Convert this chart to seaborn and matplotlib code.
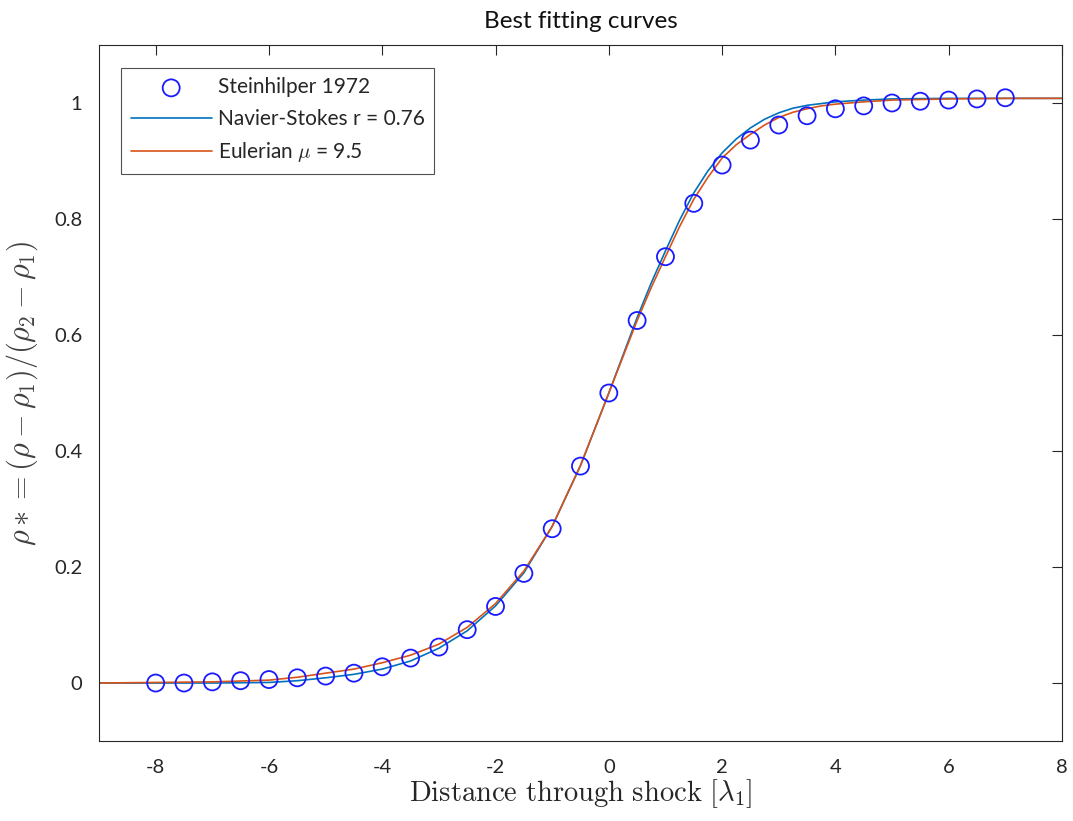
import numpy as np
import pandas as pd
import matplotlib
matplotlib.use("Agg")
import matplotlib.pyplot as plt
import seaborn as sns

# Data
marker_x = [-8, -7.5, -7, -6.5, -6, -5.5, -5, -4.5, -4, -3.5, -3, -2.5, -2, -1.5, -1, -0.5,
            0, 0.5, 1, 1.5, 2, 2.5, 3, 3.5, 4, 4.5, 5, 5.5, 6, 6.5, 7]
marker_y = [0.0, 0.0, 0.002, 0.004, 0.006, 0.009, 0.012, 0.017, 0.028, 0.043, 0.062, 0.092,
            0.132, 0.189, 0.266, 0.374, 0.500, 0.625, 0.735, 0.827, 0.893, 0.936, 0.962,
            0.978, 0.990, 0.995, 1.000, 1.003, 1.005, 1.007, 1.009]

curve_x = [-9, -8, -7, -6, -5.5, -5, -4.5, -4, -3.5, -3, -2.5, -2, -1.5, -1, -0.5, 0, 0.5,
           0.75, 1, 1.25, 1.5, 1.75, 2, 2.25, 2.5, 2.75, 3, 3.25, 3.5, 3.75, 4, 4.5, 5, 6,
           7, 8]
ns_y = [0.0, 0.0, 0.0, 0.001, 0.004, 0.009, 0.015, 0.024, 0.038, 0.060, 0.090, 0.133, 0.190,
        0.270, 0.375, 0.500, 0.630, 0.690, 0.745, 0.798, 0.845, 0.883, 0.914, 0.938, 0.957,
        0.972, 0.983, 0.991, 0.996, 0.999, 1.002, 1.005, 1.007, 1.008, 1.008, 1.008]
eu_y = [0.0, 0.001, 0.002, 0.005, 0.010, 0.017, 0.024, 0.035, 0.048, 0.067, 0.096, 0.137,
        0.193, 0.270, 0.375, 0.500, 0.625, 0.682, 0.735, 0.787, 0.834, 0.872, 0.905, 0.928,
        0.946, 0.962, 0.975, 0.984, 0.990, 0.995, 0.998, 1.002, 1.005, 1.007, 1.008, 1.008]

labels = ["Steinhilper 1972", "Navier-Stokes r = 0.76", r"Eulerian $\mu$ = 9.5"]

sns.set_style("white")
plt.rcParams["font.family"] = ["Lato", "DejaVu Sans"]
plt.rcParams["mathtext.fontset"] = "cm"

fig = plt.figure(figsize=(10.73, 8.21), dpi=100)
ax = fig.add_axes([0.0923, 0.0974, 0.8974, 0.8478])

df_m = pd.DataFrame({"x": marker_x, "y": marker_y})
df_c = pd.DataFrame({"x": curve_x, "ns": ns_y, "eu": eu_y})

sns.scatterplot(data=df_m, x="x", y="y", ax=ax, marker="o", s=150, facecolors="none",
                edgecolor="#1a1aff", linewidth=1.3, label=labels[0], zorder=3)
sns.lineplot(data=df_c, x="x", y="ns", ax=ax, color="#0072BD", linewidth=1.2,
             label=labels[1], zorder=2)
sns.lineplot(data=df_c, x="x", y="eu", ax=ax, color="#D95319", linewidth=1.2,
             label=labels[2], zorder=2)

ax.set_xlim(-9, 8)
ax.set_ylim(-0.1, 1.1)
ax.set_xticks([-8, -6, -4, -2, 0, 2, 4, 6, 8])
ax.set_xticklabels(["-8", "-6", "-4", "-2", "0", "2", "4", "6", "8"])
ax.set_yticks([0, 0.2, 0.4, 0.6, 0.8, 1])
ax.set_yticklabels(["0", "0.2", "0.4", "0.6", "0.8", "1"])

ax.tick_params(direction="in", length=7, width=0.8, top=True, right=True,
               labelsize=14.5, colors="#262626")
ax.tick_params(axis="x", pad=13)
ax.tick_params(axis="y", pad=12)
for s in ax.spines.values():
    s.set_color("#262626")
    s.set_linewidth(0.8)
    s.set_visible(True)

ax.set_title("Best fitting curves", fontsize=17.5, color="#111111", pad=12)
ax.set_xlabel(r"$\mathrm{Distance\ through\ shock}\ [\lambda_1]$", fontsize=20.6,
              color="#262626", labelpad=1)
ax.set_ylabel(r"$\rho * = (\rho - \rho_1)/(\rho_2 - \rho_1)$", fontsize=21.8,
              color="#404040", labelpad=10)

leg = ax.legend(loc="upper left", bbox_to_anchor=(0.023, 0.967), fontsize=15,
                frameon=True, fancybox=False, edgecolor="#262626", handlelength=3.9,
                borderpad=0.45, labelspacing=0.55, handletextpad=0.3, borderaxespad=0)
leg.get_frame().set_linewidth(0.8)

fig.savefig("out.png", dpi=100)
